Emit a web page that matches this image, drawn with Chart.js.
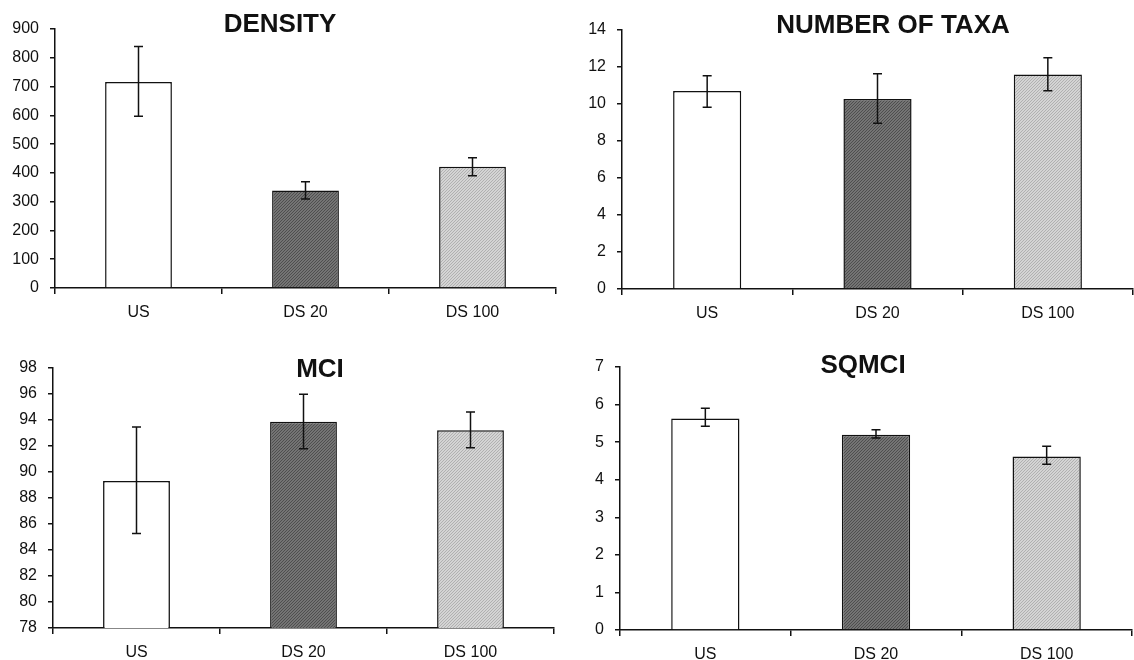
<!DOCTYPE html>
<html>
<head>
<meta charset="utf-8">
<script src="https://cdn.jsdelivr.net/npm/chart.js@4"></script>
<style>
  body { margin: 0; background: #fff; }
  #wrap { position: relative; width: 1134px; height: 660px; }
  canvas { position: absolute; }
</style>
</head>
<body>
<div id="wrap">
  <canvas id="density" width="567" height="330" style="left:0;top:0"></canvas>
  <canvas id="taxa" width="567" height="330" style="left:567px;top:0"></canvas>
  <canvas id="mci" width="567" height="330" style="left:0;top:330px"></canvas>
  <canvas id="sqmci" width="567" height="330" style="left:567px;top:330px"></canvas>
</div>
<script>
const categories = ["US", "DS 20", "DS 100"];

const densityMean = [716, 339, 421];
const densityLow = [597, 309, 390];
const densityHigh = [839, 369, 453];

const taxaMean = [10.7, 10.27, 11.6];
const taxaLow = [9.82, 8.96, 10.72];
const taxaHigh = [11.53, 11.63, 12.5];

const mciMean = [89.3, 93.87, 93.21];
const mciLow = [85.26, 91.78, 91.86];
const mciHigh = [93.46, 95.99, 94.61];

const sqmciMean = [5.63, 5.2, 4.62];
const sqmciLow = [5.42, 5.11, 4.41];
const sqmciHigh = [5.9, 5.33, 4.89];

const FONT = "'Liberation Sans', Arial, sans-serif";

// small dotted texture, like the old print fill
const dots = (ctx, base, dot) => {
  const p = document.createElement("canvas");
  p.width = 3;
  p.height = 3;
  const g = p.getContext("2d");
  g.fillStyle = base;
  g.fillRect(0, 0, 3, 3);
  g.fillStyle = dot;
  g.fillRect(0, 0, 1, 1);
  g.fillRect(2, 1, 1, 1);
  g.fillRect(1, 2, 1, 1);
  return ctx.createPattern(p, "repeat");
};

const errorBars = {
  id: "errorBars",
  afterDatasetsDraw(chart, args, opts) {
    const ctx = chart.ctx;
    const y = chart.scales.y;
    const meta = chart.getDatasetMeta(0);
    ctx.save();
    ctx.strokeStyle = "#111";
    ctx.lineWidth = 1.5;
    meta.data.forEach((bar, i) => {
      const x = bar.x;
      const lo = y.getPixelForValue(opts.low[i]);
      const hi = y.getPixelForValue(opts.high[i]);
      ctx.beginPath();
      ctx.moveTo(x, lo);
      ctx.lineTo(x, hi);
      ctx.moveTo(x - 4.5, lo);
      ctx.lineTo(x + 4.5, lo);
      ctx.moveTo(x - 4.5, hi);
      ctx.lineTo(x + 4.5, hi);
      ctx.stroke();
    });
    ctx.restore();
  },
};

const panelTitle = {
  id: "panelTitle",
  afterDraw(chart, args, opts) {
    const ctx = chart.ctx;
    ctx.save();
    ctx.font = "bold 26px " + FONT;
    ctx.fillStyle = "#111";
    ctx.textAlign = "center";
    ctx.textBaseline = "middle";
    ctx.fillText(opts.text, opts.x, opts.y);
    ctx.restore();
  },
};

const renderChart = (id, values, low, high, yMin, yMax, step, p) => {
  const canvas = document.getElementById(id);
  const ctx = canvas.getContext("2d");
  new Chart(canvas, {
    type: "bar",
    data: {
      labels: categories,
      datasets: [
        {
          data: values,
          backgroundColor: ["#ffffff", dots(ctx, "#747474", "#4e4e4e"), dots(ctx, "#d4d4d4", "#b0b0b0")],
          borderColor: "#111",
          borderWidth: 1.5,
          categoryPercentage: 1,
          barPercentage: 0.4,
        },
      ],
    },
    options: {
      responsive: false,
      animation: false,
      layout: { padding: { left: 0, top: p.top, right: p.right, bottom: 0 } },
      plugins: {
        legend: { display: false },
        tooltip: { enabled: false },
        errorBars: { low: low, high: high },
        panelTitle: { text: p.title, x: p.tx, y: p.ty },
      },
      scales: {
        x: {
          afterFit: (s) => { s.height = p.xh; },
          border: { display: true, color: "#111", width: 1.5 },
          grid: { offset: true, drawOnChartArea: false, drawTicks: true, tickLength: 6, tickColor: "#111", lineWidth: 1.5 },
          ticks: { color: "#111", font: { family: FONT, size: 16 }, padding: 9 },
        },
        y: {
          min: yMin,
          max: yMax,
          afterFit: (s) => { s.width = p.yw; },
          border: { display: true, color: "#111", width: 1.5 },
          grid: { drawOnChartArea: false, drawTicks: true, tickLength: 5, tickColor: "#111", lineWidth: 1.5 },
          ticks: { stepSize: step, color: "#111", font: { family: FONT, size: 16 }, padding: 11 },
        },
      },
    },
    plugins: [errorBars, panelTitle],
  });
};

renderChart("density", densityMean, densityLow, densityHigh, 0, 900, 100,
  { title: "DENSITY", tx: 280, ty: 25, top: 29, right: 11, yw: 55, xh: 42 });
renderChart("taxa", taxaMean, taxaLow, taxaHigh, 0, 14, 2,
  { title: "NUMBER OF TAXA", tx: 326, ty: 26, top: 30, right: 1, yw: 55, xh: 41 });
renderChart("mci", mciMean, mciLow, mciHigh, 78, 98, 2,
  { title: "MCI", tx: 320, ty: 40, top: 38, right: 13, yw: 53, xh: 32 });
renderChart("sqmci", sqmciMean, sqmciLow, sqmciHigh, 0, 7, 1,
  { title: "SQMCI", tx: 296, ty: 36, top: 37, right: 2, yw: 53, xh: 30 });
</script>
</body>
</html>
